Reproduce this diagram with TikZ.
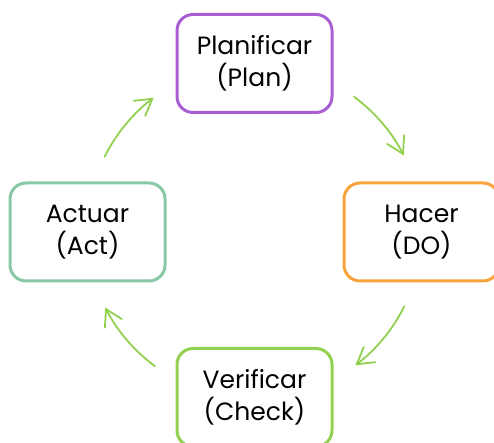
\documentclass[tikz,border=0pt]{standalone}
\usepackage{fontspec}
\setmainfont{Poppins}
\usetikzlibrary{arrows.meta,calc}
\definecolor{cplan}{HTML}{A95FD3}
\definecolor{cdo}{HTML}{F9A33B}
\definecolor{ccheck}{HTML}{92D050}
\definecolor{cact}{HTML}{88C8A5}
\definecolor{carrow}{HTML}{92D050}
\begin{document}
\begin{tikzpicture}[x=1pt,y=1pt,
  box/.style={draw, line width=3pt, rounded corners=16pt, fill=white,
    minimum width=155pt, minimum height=98pt, align=center, inner sep=0pt,
    font=\fontsize{25}{32}\selectfont},
  arr/.style={draw=carrow, line width=1.8pt, line cap=round,
    -{Straight Barb[length=16pt,width=19pt,line cap=round]}}]
\useasboundingbox (0,0) rectangle (494,443);
\clip (0,0) rectangle (494,443);
\node[box, draw=cplan]  (plan)  at (254.5,379.5) {Planificar\\(Plan)};
\node[box, draw=cdo]    (do)    at (421.5,211)   {Hacer\\(DO)};
\node[box, draw=ccheck] (check) at (254.5,45.5)  {Verificar\\(Check)};
\node[box, draw=cact]   (act)   at (87.5,211)    {Actuar\\(Act)};
\coordinate (c) at (254.5,211.5);
\coordinate (s1) at ($(c)+(53.5:167.5)$);
\coordinate (s2) at ($(c)+(-26.5:167.5)$);
\coordinate (s3) at ($(c)+(-126.5:167.5)$);
\coordinate (s4) at ($(c)+(153.5:167.5)$);
\draw[arr] (s1) arc[start angle=53.5, end angle=27, radius=167.5];
\draw[arr] (s2) arc[start angle=-26.5, end angle=-53, radius=167.5];
\draw[arr] (s3) arc[start angle=-126.5, end angle=-153, radius=167.5];
\draw[arr] (s4) arc[start angle=153.5, end angle=127, radius=167.5];
\end{tikzpicture}
\end{document}
